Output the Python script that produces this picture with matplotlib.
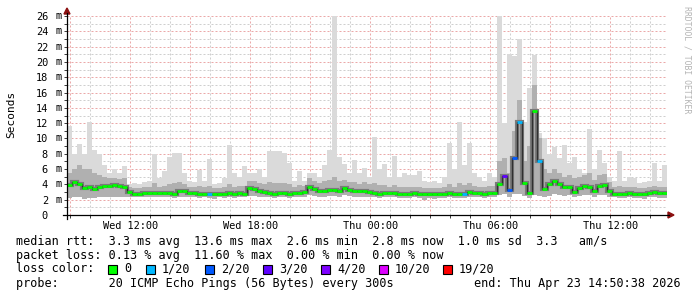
import numpy as np
import matplotlib
matplotlib.use("Agg")
import matplotlib.pyplot as plt
import matplotlib.dates as mdates
from matplotlib.lines import Line2D
from matplotlib.patches import Rectangle, Polygon
from matplotlib.ticker import MultipleLocator, FuncFormatter
from datetime import datetime

# 30 hours of smokeping data, 15 minute bins
start = datetime(2026, 4, 22, 8, 50, 38)
end = datetime(2026, 4, 23, 14, 50, 38)

median_ms = [3.9, 4.3, 4.0, 3.5, 3.6, 3.4, 3.7, 3.8, 3.8, 3.9, 3.8, 3.7,
             3.0, 2.8, 2.8, 2.9, 2.9, 2.9, 2.9, 2.9, 2.9, 2.8, 3.2, 3.1, 2.9,
             2.9, 2.8, 2.8, 2.8, 2.7, 2.8, 2.8, 2.9, 2.8, 2.9, 2.8, 3.5,
             3.4, 3.1, 3.0, 2.9, 2.8, 2.9, 2.9, 2.8, 2.9, 2.9, 3.0, 3.7,
             3.4, 3.2, 3.2, 3.3, 3.3, 3.2, 3.5, 3.3, 3.2, 3.1, 3.2, 3.0,
             2.9, 2.8, 2.9, 2.9, 2.9, 2.8, 2.8, 2.8, 2.9, 2.8, 2.7, 2.8,
             2.7, 2.8, 2.8, 2.9, 2.8, 2.8, 2.8, 3.0, 2.9, 2.9, 2.8, 2.9,
             2.9, 4.1, 5.1, 3.3, 7.4, 12.1, 4.2, 2.9, 13.6, 7.1, 3.4, 4.0, 4.5, 4.1, 3.6,
             3.7, 3.0, 3.5, 3.8, 3.6, 3.1, 3.8, 3.9, 3.2, 2.8,
             2.8, 2.8, 2.9, 2.8, 2.8, 2.7, 2.9, 3.0, 2.9, 2.9]

min_ms = [2.2, 2.3, 2.4, 2.1, 2.2, 2.2, 2.3, 2.4, 2.3, 2.4, 2.3, 2.4,
          2.3, 2.3, 2.3, 2.3, 2.4, 2.3, 2.4, 2.3, 2.3, 2.2, 2.4, 2.4, 2.3,
          2.3, 2.2, 2.3, 2.2, 2.1, 2.3, 2.2, 2.3, 2.2, 2.3, 2.3, 2.5,
          2.5, 2.4, 2.3, 2.3, 2.2, 2.3, 2.3, 2.2, 2.3, 2.3, 2.4, 2.6,
          2.5, 2.4, 2.4, 2.5, 2.5, 2.4, 2.6, 2.5, 2.4, 2.4, 2.4, 2.3,
          2.3, 2.2, 2.3, 2.3, 2.3, 2.2, 2.2, 2.2, 2.3, 2.2, 2.0, 2.2,
          2.1, 2.2, 2.2, 2.3, 2.2, 2.2, 2.2, 2.3, 2.3, 2.3, 2.2, 2.3,
          2.3, 2.6, 2.7, 2.4, 2.8, 2.8, 2.5, 2.2, 2.6, 2.5, 2.3, 2.5, 2.7, 2.6, 2.5,
          2.6, 2.4, 2.5, 2.6, 2.6, 2.4, 2.6, 2.6, 2.4, 2.3,
          2.2, 2.2, 2.3, 2.2, 2.2, 2.1, 2.3, 2.3, 2.2, 2.2]

# upper edge of the denser part of the smoke
mid_ms = [5.5, 6.0, 6.5, 6.0, 6.0, 5.5, 5.2, 5.0, 4.8, 4.8, 4.7, 4.8,
          3.6, 3.5, 3.5, 3.6, 3.6, 4.2, 3.7, 3.8, 4.0, 4.2, 4.3, 4.0, 3.6,
          3.6, 3.8, 3.6, 3.8, 3.5, 3.5, 3.6, 4.0, 3.7, 3.8, 3.8, 4.5,
          4.5, 4.2, 4.0, 4.3, 4.2, 4.2, 4.2, 4.0, 3.6, 3.9, 3.8, 4.8,
          4.5, 4.2, 4.4, 4.6, 5.0, 4.5, 4.6, 4.3, 4.3, 4.1, 4.3, 4.0,
          4.2, 3.9, 3.9, 3.7, 3.9, 3.7, 3.7, 3.6, 3.7, 3.7, 3.5, 3.5,
          3.5, 3.5, 3.6, 4.0, 3.7, 4.2, 3.9, 4.2, 3.8, 3.7, 3.6, 3.8,
          3.8, 7.0, 7.5, 5.5, 11.0, 15.0, 7.0, 9.0, 17.0, 10.0, 6.0, 5.5, 6.0, 5.5, 5.0,
          5.2, 4.8, 5.0, 5.2, 5.5, 4.6, 5.2, 5.3, 4.3, 3.6,
          3.8, 3.6, 3.7, 3.6, 3.5, 3.5, 3.6, 3.8, 3.7, 3.7]

max_ms = [11.6, 8.0, 9.3, 8.0, 12.1, 8.5, 8.0, 6.5, 5.5, 6.0, 5.5, 6.4,
          4.0, 4.2, 4.0, 4.3, 4.5, 8.0, 4.8, 5.7, 7.6, 8.1, 8.1, 5.5, 4.5,
          4.3, 5.9, 4.5, 7.3, 4.0, 4.2, 4.8, 9.1, 5.5, 5.0, 6.4, 5.5,
          5.5, 6.0, 5.0, 8.3, 8.3, 8.4, 8.1, 6.8, 4.5, 5.7, 4.5, 5.5,
          5.5, 5.0, 6.5, 8.5, 26.1, 7.6, 6.7, 5.5, 7.2, 5.5, 6.1, 5.0,
          10.2, 6.0, 6.7, 5.0, 7.7, 5.0, 5.5, 5.2, 5.2, 5.7, 4.5, 4.3,
          4.5, 4.2, 5.0, 9.4, 6.0, 12.1, 6.5, 9.4, 5.5, 5.0, 4.5, 5.5,
          5.0, 26.1, 12.0, 21.0, 20.8, 23.0, 12.2, 16.6, 20.9, 10.7, 10.1, 8.0, 8.9, 7.5, 9.1,
          6.8, 7.6, 6.0, 5.5, 11.2, 6.0, 8.5, 6.8, 5.0, 4.4,
          8.4, 4.5, 5.0, 4.8, 4.2, 4.3, 4.5, 6.8, 4.5, 6.5]

# bins with packet loss (pings lost out of 20)
loss_bins = [28, 79, 87, 88, 89, 90, 94]
loss_counts = [1, 1, 3, 2, 2, 1, 1]

loss_steps = [0, 1, 2, 3, 4, 10, 19]
loss_labels = ["0", "1/20", "2/20", "3/20", "4/20", "10/20", "19/20"]
loss_colors = ["#00ff00", "#00b8ff", "#0059ff", "#5e00ff", "#7e00ff", "#dd00ff", "#ff0000"]

rtt_line = "median rtt:  3.3 ms avg  13.6 ms max  2.6 ms min  2.8 ms now  1.0 ms sd  3.3   am/s"
loss_line = "packet loss: 0.13 % avg  11.60 % max  0.00 % min  0.00 % now"
probe_line = "probe:       20 ICMP Echo Pings (56 Bytes) every 300s"
end_line = "end: Thu Apr 23 14:50:38 2026"

W, H = 697, 297
MONO = "DejaVu Sans Mono"


def fx(px):
    return px / W


def fy(py):
    return 1 - py / H


def loss_color(count):
    col = loss_colors[0]
    for step, c in zip(loss_steps, loss_colors):
        if count >= step:
            col = c
    return col


n = len(median_ms)
t0 = mdates.date2num(start)
t1 = mdates.date2num(end)
edges = np.linspace(t0, t1, n + 1)

bin_colors = [loss_colors[0]] * n
for b, c in zip(loss_bins, loss_counts):
    bin_colors[b] = loss_color(c)

fig = plt.figure(figsize=(W / 100, H / 100), dpi=100, facecolor="white")
ax = fig.add_axes([fx(67), fy(215), 600 / W, 199 / H])
ax.set_facecolor("white")

# smoke
ax.stairs(max_ms, edges, baseline=min_ms, fill=True, color="#dadada", zorder=1)
ax.stairs(mid_ms, edges, baseline=min_ms, fill=True, color="#b0b0b0", zorder=2)
ax.stairs(median_ms, edges, baseline=None, color="#7a7a7a", linewidth=3.0, zorder=3)
ax.stairs(median_ms, edges, baseline=None, color="#303030", linewidth=1.0, zorder=4)
# median, coloured by loss
ax.hlines(median_ms, edges[:-1], edges[1:], colors=bin_colors, linewidth=2.0, zorder=5)

ax.set_xlim(t0, t1)
ax.set_ylim(0, 26)

ax.xaxis_date()
ax.xaxis.set_major_locator(mdates.HourLocator(byhour=range(0, 24, 3)))
ax.xaxis.set_minor_locator(mdates.HourLocator())


def xfmt(v, pos):
    d = mdates.num2date(v)
    return d.strftime("%a %H:%M") if d.hour % 6 == 0 else ""


ax.xaxis.set_major_formatter(FuncFormatter(xfmt))
ax.yaxis.set_major_locator(MultipleLocator(2))
ax.yaxis.set_minor_locator(MultipleLocator(1))
ax.yaxis.set_major_formatter(FuncFormatter(lambda v, pos: "%d" % v))

ax.set_axisbelow(True)
ax.grid(which="major", color="#eba8a8", linestyle=(0, (2, 2)), linewidth=0.72)
ax.grid(which="minor", color="#cfcfcf", linestyle=(0, (2, 2)), linewidth=0.72)

for s in ax.spines.values():
    s.set_visible(False)

ax.tick_params(axis="y", which="both", direction="out", length=2.2, width=0.72,
               color="#404040", labelsize=7.4, pad=11.5)
ax.tick_params(axis="x", which="both", direction="out", length=2.2, width=0.72,
               color="#404040", labelsize=7.4, pad=2.0)
for lab in ax.get_xticklabels() + ax.get_yticklabels():
    lab.set_fontfamily(MONO)

# unit after each y label
ytr = ax.get_yaxis_transform()
for v in range(2, 27, 2):
    ax.text((55 - 67) / 600, v, "m", transform=ytr, ha="left", va="center",
            fontsize=7.4, family=MONO, clip_on=False)

# axes with arrows
fig.add_artist(Line2D([fx(63), fx(669)], [fy(215), fy(215)], color="black", linewidth=0.9))
fig.add_artist(Line2D([fx(67), fx(67)], [fy(219), fy(13)], color="black", linewidth=0.9))
fig.add_artist(Polygon([[fx(668), fy(212)], [fx(674), fy(215)], [fx(668), fy(218)]],
                       closed=True, color="#8b1010"))
fig.add_artist(Polygon([[fx(64), fy(14)], [fx(67), fy(8)], [fx(70), fy(14)]],
                       closed=True, color="#8b1010"))

fig.text(fx(11), fy(114), "Seconds", rotation=90, ha="center", va="center",
         fontsize=8.0, family=MONO)
fig.text(fx(687), fy(6), "RRDTOOL / TOBI OETIKER", rotation=270, ha="center", va="top",
         fontsize=5.9, family=MONO, color="#b4b4b4")

# legend block
fs = 8.5
fig.text(fx(16), fy(241), rtt_line, ha="left", va="center", fontsize=fs, family=MONO)
fig.text(fx(16), fy(255), loss_line, ha="left", va="center", fontsize=fs, family=MONO)
fig.text(fx(16), fy(269), "loss color:", ha="left", va="center", fontsize=fs, family=MONO)
box_x = [108, 146, 205, 263, 321, 379, 443]
for bx, lab, col in zip(box_x, loss_labels, loss_colors):
    fig.add_artist(Rectangle((fx(bx), fy(274)), 9 / W, 9 / H, transform=fig.transFigure,
                             facecolor=col, edgecolor="black", linewidth=0.8))
    fig.text(fx(bx + 16), fy(269), lab, ha="left", va="center", fontsize=fs, family=MONO)
fig.text(fx(16), fy(283), probe_line, ha="left", va="center", fontsize=fs, family=MONO)
fig.text(fx(681), fy(283), end_line, ha="right", va="center", fontsize=fs, family=MONO)

fig.savefig("out.png", dpi=100, facecolor="white")
